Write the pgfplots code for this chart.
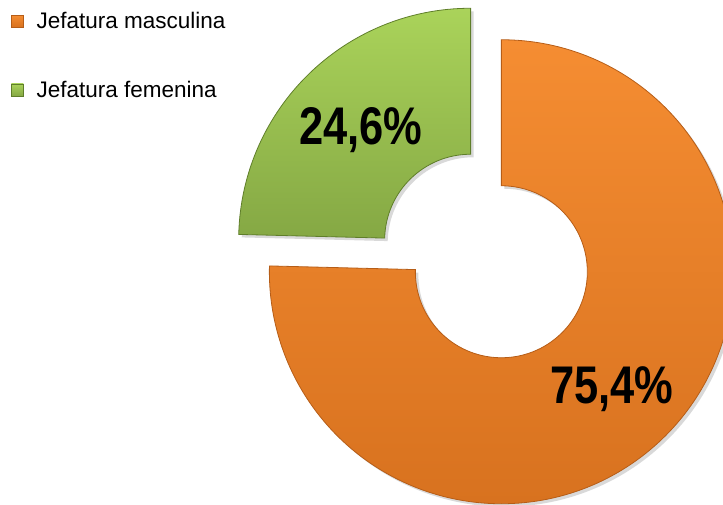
\documentclass[border=0pt]{standalone}
\usepackage{pgfplots}
\pgfplotsset{compat=1.18}
\usepackage{pgfplotstable}
\usepackage{fontspec}
\setmainfont{Liberation Sans}
\newfontfamily\narrowfont[FakeStretch=0.82]{Liberation Sans}
\definecolor{orT}{HTML}{F58D32}
\definecolor{orB}{HTML}{D8721F}
\definecolor{orD}{HTML}{B65D17}
\definecolor{grT}{HTML}{AAD35A}
\definecolor{grB}{HTML}{85A844}
\definecolor{grD}{HTML}{5F7E2A}
\pgfplotstableread[col sep=comma]{
label,value
Jefatura masculina,75.4
Jefatura femenina,24.6
}\datatable
\pgfplotstablegetelem{0}{value}\of\datatable \let\vMasc\pgfplotsretval
\pgfplotstablegetelem{1}{value}\of\datatable \let\vFem\pgfplotsretval
\pgfmathsetmacro\aM{3.6*\vMasc}
\pgfmathsetmacro\aF{3.6*\vFem}
% geometry (units = pt = px)
\def\cx{486}\def\cy{248}\def\Ro{232pt}\def\Ri{86pt}\def\ex{22}
\pgfmathsetmacro\sM{90}
\pgfmathsetmacro\eM{90-\aM}
\pgfmathsetmacro\mM{90-\aM/2}
\pgfmathsetmacro\sF{90-\aM}
\pgfmathsetmacro\eF{90-\aM-\aF}
\pgfmathsetmacro\mF{90-\aM-\aF/2}
\pgfmathsetmacro\oMx{\cx+\ex*cos(\mM)}
\pgfmathsetmacro\oMy{\cy+\ex*sin(\mM)}
\pgfmathsetmacro\oFx{\cx+\ex*cos(\mF)}
\pgfmathsetmacro\oFy{\cy+\ex*sin(\mF)}
\newcommand\sectorpath[2]{(#1:\Ro) arc[start angle=#1, end angle=#2, radius=\Ro] -- (#2:\Ri) arc[start angle=#2, end angle=#1, radius=\Ri] -- cycle}
\begin{document}
\begin{tikzpicture}
\begin{axis}[name=ax,
  scale only axis, width=723pt, height=504pt,
  xmin=0, xmax=723, ymin=0, ymax=504,
  hide axis, clip=true,
  legend style={at={(axis cs:11,493)}, anchor=north west, draw=none, fill=none,
    font=\fontsize{22.5}{26}\selectfont, row sep=49pt, inner sep=0pt,
    nodes={inner sep=1pt},
    /tikz/every odd column/.append style={column sep=12pt}},
  legend cell align=left,
  legend image code/.code={\path[#1] (0pt,-6pt) rectangle (12pt,6pt);},
]
\addlegendimage{top color=orT, bottom color=orB, draw=orD, line width=0.4pt}
\addlegendentry{Jefatura masculina}
\addlegendimage{top color=grT, bottom color=grB, draw=grD, line width=0.4pt}
\addlegendentry{Jefatura femenina}
% shadows
\begin{scope}[shift={(axis cs:\oMx+3,\oMy-3)}]
  \fill[black, opacity=0.15] \sectorpath{\sM}{\eM};
\end{scope}
\begin{scope}[shift={(axis cs:\oFx+3,\oFy-3)}]
  \fill[black, opacity=0.15] \sectorpath{\sF}{\eF};
\end{scope}
% orange sector
\begin{scope}[shift={(axis cs:\oMx,\oMy)}]
  \shade[top color=orT, bottom color=orB] \sectorpath{\sM}{\eM};
  \draw[orD, line width=0.8pt] \sectorpath{\sM}{\eM};
\end{scope}
% green sector
\begin{scope}[shift={(axis cs:\oFx,\oFy)}]
  \shade[top color=grT, bottom color=grB] \sectorpath{\sF}{\eF};
  \draw[grD, line width=0.8pt] \sectorpath{\sF}{\eF};
\end{scope}
\node[font=\narrowfont\bfseries\fontsize{53}{60}\selectfont] at (axis cs:361,374) {24,6\%};
\node[font=\narrowfont\bfseries\fontsize{53}{60}\selectfont] at (axis cs:612,115) {75,4\%};
\end{axis}
\pgfresetboundingbox
\path (ax.south west) rectangle (ax.north east);
\end{tikzpicture}
\end{document}
